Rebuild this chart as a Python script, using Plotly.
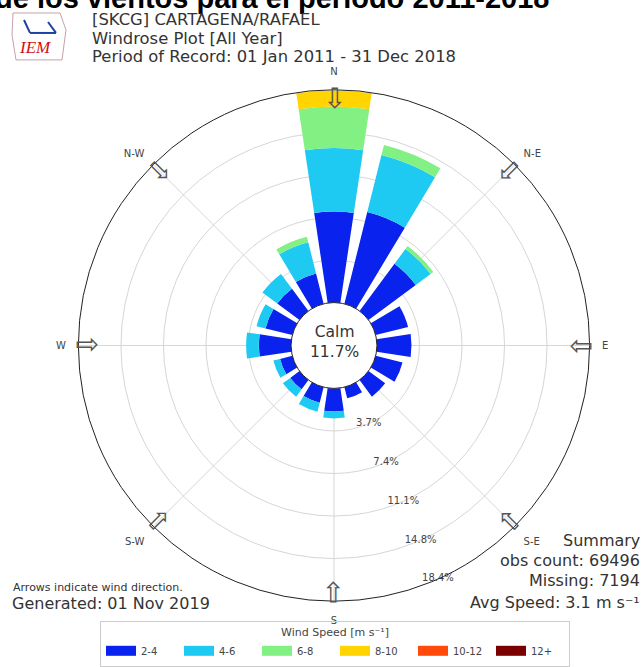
import math
import plotly.graph_objects as go

# ---------------- data ----------------
direction_labels = ["N", "NNE", "NE", "ENE", "E", "ESE", "SE", "SSE",
                    "S", "SSW", "SW", "WSW", "W", "WNW", "NW", "NNW"]
direction_deg = [0, 22.5, 45, 67.5, 90, 112.5, 135, 157.5,
                 180, 202.5, 225, 247.5, 270, 292.5, 315, 337.5]

speed_bins = ["2-4", "4-6", "6-8", "8-10", "10-12", "12+"]
freq_2_4 = [7.9, 8.2, 5.1, 2.9, 3.0, 2.4, 1.8, 1.0, 2.0, 1.4, 1.0, 1.1, 2.8, 2.4, 2.4, 2.7]
freq_4_6 = [5.5, 5.1, 1.6, 0.0, 0.0, 0.0, 0.0, 0.0, 0.6, 0.8, 0.8, 0.6, 1.1, 0.8, 1.6, 2.8]
freq_6_8 = [3.6, 0.9, 0.3, 0.0, 0.0, 0.0, 0.0, 0.0, 0.0, 0.0, 0.0, 0.0, 0.0, 0.0, 0.0, 0.5]
freq_8_10 = [1.4, 0.0, 0.0, 0.0, 0.0, 0.0, 0.0, 0.0, 0.0, 0.0, 0.0, 0.0, 0.0, 0.0, 0.0, 0.0]
freq_10_12 = [0.0] * 16
freq_12_up = [0.0] * 16

radial_max = 18.45
radial_ticks = [3.69, 7.38, 11.07, 14.76, 18.45]
radial_ticktext = ["3.7%", "7.4%", "11.1%", "14.8%", "18.4%"]
radial_label_dir = 156

compass_deg = [0, 45, 90, 135, 180, 225, 270, 315]
compass_labels = ["N", "N-E", "E", "S-E", "S", "S-W", "W", "N-W"]

calm_pct = 11.7
obs_count = 69496
missing = 7194
avg_speed = 3.1

# ---------------- styles ----------------
bin_colors = ["#0a22ee", "#1fcaf2", "#82f082", "#ffd400", "#ff4a0a", "#7a0000"]
W, H = 644, 667
cx, cy, R = 334, 346, 256
calm_r = 43


def px(x):
    return x / W


def py(y):
    return 1 - y / H


fig = go.Figure()
series = [freq_2_4, freq_4_6, freq_6_8, freq_8_10, freq_10_12, freq_12_up]
for name, vals, col in zip(speed_bins, series, bin_colors):
    fig.add_trace(go.Barpolar(
        r=vals, theta=direction_deg, name=name, width=17,
        marker=dict(color=col, line=dict(width=0)),
        hoverinfo="skip", showlegend=False,
    ))

# radial ring labels, centred on the rings
fig.add_trace(go.Scatterpolar(
    r=radial_ticks, theta=[radial_label_dir] * len(radial_ticks), mode="text",
    text=radial_ticktext, textfont=dict(family="DejaVu Sans", size=10, color="#444"),
    showlegend=False, hoverinfo="skip", cliponaxis=False,
))

# legend swatches (wide rectangles like the reference)
for name, col in zip(speed_bins, bin_colors):
    fig.add_trace(go.Scatter(x=[None], y=[None], mode="lines", name=name,
                             line=dict(color=col, width=12), hoverinfo="skip"))


def note(text, x, y, xanchor, yanchor="middle", size=16, family="DejaVu Sans", color="#333", **kw):
    return dict(text=text, x=px(x), y=py(y), xref="paper", yref="paper",
                xanchor=xanchor, yanchor=yanchor, showarrow=False,
                font=dict(family=family, size=size, color=color), **kw)


annotations = []
# title (clipped at top in the reference)
annotations.append(note("<b>de los vientos para el periodo 2011-2018</b>", 551, 16, "right",
                        yanchor="bottom", size=29, family="Liberation Sans", color="black"))
# header lines
for txt, yy in [("[SKCG] CARTAGENA/RAFAEL", 20), ("Windrose Plot [All Year]", 39),
                ("Period of Record: 01 Jan 2011 - 31 Dec 2018", 57)]:
    annotations.append(note(txt, 90, yy, "left", size=16.4))
# IEM logo text
annotations.append(note("<i>IEM</i>", 35, 48, "center", size=17, family="Liberation Serif",
                        color="#d01010"))
# calm
annotations.append(note("Calm<br>%.1f%%" % calm_pct, cx, 343, "center", size=15.5))
# bottom-left
annotations.append(note("Arrows indicate wind direction.", 11, 588, "left", size=11))
annotations.append(note("Generated: 01 Nov 2019", 10, 604, "left", size=16))
# summary
for txt, yy in [("Summary", 541), ("obs count: %d" % obs_count, 561),
                ("Missing: %d" % missing, 581), ("Avg Speed: %.1f m s⁻¹" % avg_speed, 603)]:
    annotations.append(note(txt, 642, yy, "right", size=16))
# direction arrows (hollow), pointing toward the centre
for d in compass_deg:
    a = math.radians(d)
    rr = R - 9
    annotations.append(note("⇩", cx + rr * math.sin(a), cy - rr * math.cos(a), "center",
                            size=28, color="#555", textangle=d))

shapes = [
    # logo outline
    dict(type="path", xref="paper", yref="paper",
         path="M %f,%f L %f,%f L %f,%f L %f,%f L %f,%f L %f,%f Z" % (
             px(13), py(13), px(60), py(13), px(66), py(30), px(62), py(60),
             px(16), py(60), px(12), py(35)),
         line=dict(color="#c8a0a8", width=1), fillcolor="rgba(0,0,0,0)"),
    dict(type="line", xref="paper", yref="paper", x0=px(24), y0=py(20), x1=px(30), y1=py(33),
         line=dict(color="#2040a0", width=2)),
    dict(type="line", xref="paper", yref="paper", x0=px(30), y0=py(33), x1=px(56), y1=py(33),
         line=dict(color="#2040a0", width=2)),
    dict(type="line", xref="paper", yref="paper", x0=px(48), y0=py(22), x1=px(56), y1=py(33),
         line=dict(color="#2040a0", width=2)),
]

fig.update_layout(
    width=W, height=H, autosize=False,
    margin=dict(l=0, r=0, t=0, b=0),
    paper_bgcolor="white", plot_bgcolor="white",
    font=dict(family="DejaVu Sans", color="#333"),
    showlegend=True,
    xaxis=dict(visible=False), yaxis=dict(visible=False),
    legend=dict(orientation="h", x=px(100), y=py(622), xanchor="left", yanchor="top",
                bordercolor="#cccccc", borderwidth=1, bgcolor="rgba(0,0,0,0)",
                font=dict(size=10, color="#444"),
                entrywidth=33, entrywidthmode="pixels",
                title=dict(text="Wind Speed [m s⁻¹]", side="top center", font=dict(size=11))),
    polar=dict(
        domain=dict(x=[px(cx - R), px(cx + R)], y=[py(cy + R), py(cy - R)]),
        hole=calm_r / R,
        bgcolor="white",
        barmode="stack",
        angularaxis=dict(rotation=90, direction="clockwise", tickmode="array",
                         tickvals=compass_deg, ticktext=compass_labels,
                         showline=True, linecolor="#222", linewidth=1,
                         gridcolor="#d6d6d6", ticks="outside", ticklen=10,
                         tickcolor="rgba(0,0,0,0)",
                         tickfont=dict(size=10, color="#444")),
        radialaxis=dict(range=[0, radial_max], tickmode="array", tickvals=radial_ticks,
                        showticklabels=False, angle=-67.5,
                        showline=False, gridcolor="#d6d6d6", ticks=""),
    ),
    annotations=annotations,
    shapes=shapes,
)

fig.write_html("out.html", config={"displayModeBar": False},
               post_script="document.body.style.margin='0px';")
